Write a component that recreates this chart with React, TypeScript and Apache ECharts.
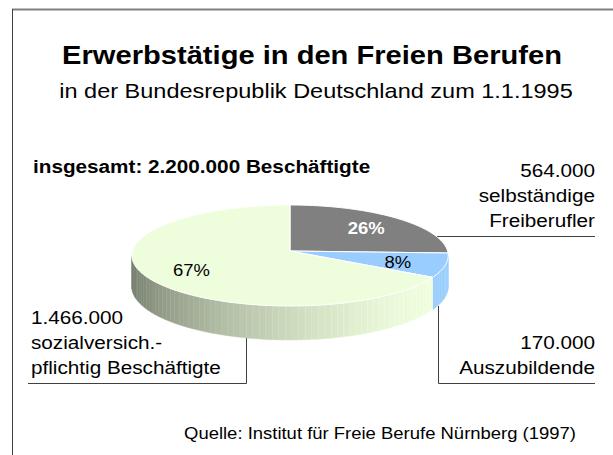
import React, { useEffect, useRef } from "react";
import * as echarts from "echarts";

// ---- data ----
const categories = ["selbständige Freiberufler", "Auszubildende", "sozialversich.-pflichtig Beschäftigte"];
const values = [564000, 170000, 1466000];
const sliceColors = ["#808080", "#99ccff", "#eefedd"];
const labelColors = ["#ffffff", "#000000", "#000000"];
const labelWeights = ["bold", "normal", "normal"];
const titleText = "Erwerbstätige in den Freien Berufen";
const subtitleText = "in der Bundesrepublik Deutschland zum 1.1.1995";
const totalText = "insgesamt: 2.200.000 Beschäftigte";
const sourceText = "Quelle: Institut für Freie Berufe Nürnberg (1997)";
const labelRight1 = ["564.000", "selbständige", "Freiberufler"];
const labelRight2 = ["170.000", "Auszubildende"];
const labelLeft = ["1.466.000", "sozialversich.-", "pflichtig Beschäftigte"];

// ---- geometry of the perspective pie ----
const CX = 290;
const CY = 251;
const RX = 157.5;
const RY = 50.1;
const P = 0.089;
const H = 31;
const SX = 1.12;
const FONT = '"Liberation Sans", Arial, sans-serif';

function proj(a: number, r = 1): number[] {
  const c = Math.cos(a);
  const s = Math.sin(a);
  const w = 1 + P * r * c;
  return [CX + (RX * r * s) / w, CY - (RY * r * c) / w];
}
function down(a: number): number[] {
  const t = proj(a);
  const c = Math.cos(a);
  return [t[0], t[1] + H / (1 + P * c)];
}
function shade(a: number): number {
  return 0.42 + 0.58 * ((Math.cos(a - (2 * Math.PI) / 3) + 1) / 2);
}
function mul(hex: string, f: number): string {
  const n = parseInt(hex.slice(1), 16);
  const r = Math.min(255, Math.round(((n >> 16) & 255) * f));
  const g = Math.min(255, Math.round(((n >> 8) & 255) * f));
  const b = Math.min(255, Math.round((n & 255) * f));
  return `rgb(${r},${g},${b})`;
}

function txt(text: string, x: number, y: number, size: number, align: string, weight = "normal") {
  return {
    type: "text",
    x,
    y,
    scaleX: SX,
    silent: true,
    style: {
      text,
      x: 0,
      y: 0,
      fill: "#000",
      font: `${weight} ${size}px ${FONT}`,
      align,
      textAlign: align,
      verticalAlign: "middle",
      textVerticalAlign: "middle",
    },
  };
}

export default function App() {
  const ref = useRef<HTMLDivElement>(null);
  useEffect(() => {
    if (!ref.current) return;
    const chart = echarts.init(ref.current, undefined, { renderer: "svg" });
    const total = values.reduce((s, v) => s + v, 0);

    const graphic: any[] = [
      { type: "line", shape: { x1: 12, y1: 9.5, x2: 613, y2: 9.5 }, style: { stroke: "#808080", lineWidth: 2 } },
      { type: "line", shape: { x1: 12.5, y1: 9, x2: 12.5, y2: 455 }, style: { stroke: "#404040", lineWidth: 1 } },
      txt(titleText, 312, 55, 26, "center", "bold"),
      txt(subtitleText, 316, 91, 21, "center"),
      txt(totalText, 33, 166.5, 18.5, "left", "bold"),
      txt(sourceText, 380, 433, 16.5, "center"),
      { type: "polyline", shape: { points: [[437, 236.5], [595, 236.5]] }, style: { stroke: "#404040", lineWidth: 1, fill: null } },
      { type: "polyline", shape: { points: [[438.5, 306], [438.5, 383.5], [595, 383.5]] }, style: { stroke: "#404040", lineWidth: 1, fill: null } },
      { type: "polyline", shape: { points: [[28, 383.5], [246.5, 383.5], [246.5, 338]] }, style: { stroke: "#404040", lineWidth: 1, fill: null } },
    ];
    labelRight1.forEach((t, i) => graphic.push(txt(t, 595, 170 + i * 25, 18.5, "right")));
    labelRight2.forEach((t, i) => graphic.push(txt(t, 595, 342.5 + i * 24.5, 18.5, "right")));
    labelLeft.forEach((t, i) => graphic.push(txt(t, 31, 317 + i * 25, 18.5, "left")));

    const option: any = {
      animation: false,
      backgroundColor: "#ffffff",
      graphic,
      series: [
        {
          type: "custom",
          coordinateSystem: "none",
          silent: true,
          data: values.map((v, i) => ({ value: v, name: categories[i] })),
          renderItem: (params: any, api: any) => {
            const i = params.dataIndex;
            let start = 0;
            for (let k = 0; k < i; k++) start += values[k];
            const v = api.value(0) as number;
            const a0 = (start / total) * 2 * Math.PI;
            const a1 = ((start + v) / total) * 2 * Math.PI;
            const children: any[] = [];
            const vs = Math.PI / 2 + Math.asin(P);
            const ve = 1.5 * Math.PI - Math.asin(P);
            const s0 = Math.max(a0, vs);
            const s1 = Math.min(a1, ve);
            if (s1 > s0) {
              const n = Math.max(1, Math.ceil((s1 - s0) / ((2.2 * Math.PI) / 180)));
              for (let k = 0; k < n; k++) {
                const b0 = s0 + ((s1 - s0) * k) / n;
                const b1 = s0 + ((s1 - s0) * (k + 1)) / n;
                const f = shade((b0 + b1) / 2);
                children.push({
                  type: "polygon",
                  shape: { points: [proj(b0), proj(b1), down(b1), down(b0)] },
                  style: { fill: mul(sliceColors[i], f), stroke: mul(sliceColors[i], Math.min(1.08, f * 1.04)), lineWidth: 0.5 },
                });
              }
            }
            const pts: number[][] = [[CX, CY]];
            const m = Math.max(2, Math.ceil((a1 - a0) / (Math.PI / 180)));
            for (let k = 0; k <= m; k++) pts.push(proj(a0 + ((a1 - a0) * k) / m));
            children.push({
              type: "polygon",
              shape: { points: pts },
              style: { fill: sliceColors[i], stroke: "#ffffff", lineWidth: 1 },
            });
            const mid = (a0 + a1) / 2;
            const lp = proj(mid, 0.7);
            children.push({
              type: "text",
              x: lp[0],
              y: lp[1] + 1,
              scaleX: SX,
              style: {
                text: `${Math.round((v / total) * 100)}%`,
                x: 0,
                y: 0,
                fill: labelColors[i],
                font: `${labelWeights[i]} 16.5px ${FONT}`,
                align: "center",
                verticalAlign: "middle",
              },
            });
            return { type: "group", children };
          },
        },
      ],
    };
    chart.setOption(option);
    return () => chart.dispose();
  }, []);
  return (
    <div
      ref={ref}
      style={{ position: "absolute", left: 0, top: 0, width: 613, height: 455, background: "#fff" }}
    />
  );
}
